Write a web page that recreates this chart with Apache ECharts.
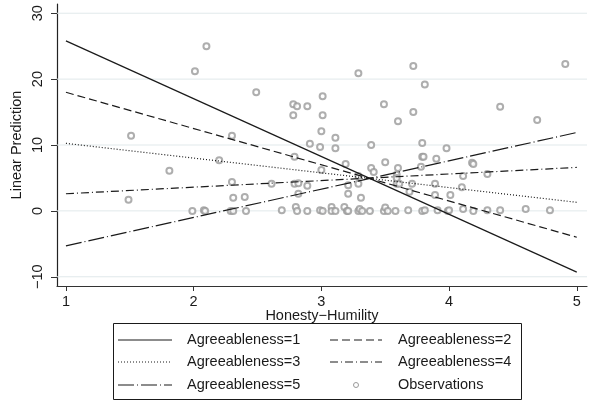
<!DOCTYPE html>
<html>
<head>
<meta charset="utf-8">
<script src="https://cdn.jsdelivr.net/npm/echarts@6/dist/echarts.min.js"></script>
<style>
  html, body { margin: 0; padding: 0; background: #fff; }
  #chart { width: 591px; height: 408px; }
</style>
</head>
<body>
<div id="chart"></div>
<script>
// Honesty–Humility ticks and y ticks
const xTicks = [1, 2, 3, 4, 5];
const yTicks = [-10, 0, 10, 20, 30];
const xRange = [0.93, 5.08];
const yRange = [-11.4, 31.4];

// Predicted lines: value at Honesty–Humility = 1 and = 5 for each agreeableness level
const lineNames = ['Agreeableness=1', 'Agreeableness=2', 'Agreeableness=3', 'Agreeableness=4', 'Agreeableness=5'];
const lineX = [1, 5];
const agree1 = [25.8, -9.3];
const agree2 = [18.0, -4.0];
const agree3 = [10.25, 1.3];
const agree4 = [2.6, 6.6];
const agree5 = [-5.3, 11.9];

// Observed data
const obsX = [
  2.10, 2.01, 2.49, 2.78, 2.81, 2.89, 3.01, 2.78, 3.01, 3.00, 3.11, 2.91, 2.99, 3.11, 3.29, 3.39,
  3.49, 3.60, 2.30, 3.72, 3.81, 3.72, 3.79, 3.98, 4.40, 4.69, 4.91, 1.51, 2.20, 1.81, 1.49,
  2.30, 2.31, 2.40, 2.79, 3.19, 3.00, 3.29, 2.61, 2.79, 2.82, 2.89, 3.21, 2.82, 3.21, 3.39,
  3.41, 3.50, 3.60, 3.29, 3.59, 3.59, 3.31, 3.79, 3.80, 3.90, 4.18, 4.19, 3.78, 4.11, 4.30,
  3.59, 3.61, 3.71, 3.89, 4.10, 3.69, 3.89, 4.01,
  1.99, 2.08, 2.09, 2.29, 2.31, 2.41, 2.69, 2.80, 2.81, 2.89, 2.99, 3.01, 3.08, 3.08, 3.11,
  3.18, 3.20, 3.21, 3.29, 3.30, 3.32, 3.38, 3.49, 3.50, 3.52, 3.58, 3.68, 3.79, 3.81, 3.91,
  3.99, 4.00, 4.11, 4.19, 4.30, 4.40, 4.60, 4.79
];
const obsY = [
  25.0, 21.2, 18.0, 16.2, 15.9, 15.9, 17.4, 14.5, 14.5, 12.1, 11.1, 10.2, 9.7, 9.5, 20.9, 10.0,
  16.2, 13.6, 11.4, 22.0, 19.2, 15.0, 10.3, 9.5, 15.8, 13.8, 22.3, 11.4, 7.7, 6.1, 1.7,
  4.4, 2.0, 2.1, 8.2, 7.1, 6.2, 5.3, 4.1, 4.1, 4.2, 3.8, 3.9, 2.6, 2.6, 6.5,
  5.9, 7.4, 6.5, 4.1, 5.5, 4.1, 2.0, 8.2, 8.2, 7.9, 7.3, 7.1, 6.7, 5.3, 5.6,
  5.0, 4.1, 4.1, 4.1, 3.6, 2.9, 2.4, 2.4,
  0, 0.1, 0, 0, 0, 0, 0.1, 0.6, 0, 0, 0.1, 0, 0.6, 0, 0,
  0.6, 0, 0, 0, 0.3, 0, 0, 0, 0.5, 0, 0, 0.1, 0, 0.1, 0.1,
  0, 0.1, 0.3, 0, 0.1, 0.1, 0.3, 0.1
];
const obsName = 'Observations';

const FONT = '"Liberation Sans", Arial, Helvetica, sans-serif';
const INK = '#1a1a1a';
const OBS = '#9a9a9a';
const GRIDC = '#e1e9eb';
const fmt = v => (v < 0 ? '\u2212' + Math.abs(v) : String(v));

const dashes = [null, [8, 4], [1, 2], [8, 3, 1, 3], [16, 3, 1, 3]];
const lineValues = [agree1, agree2, agree3, agree4, agree5];

// horizontal gridlines across the full plot width at each y tick
const gridSeries = yTicks.map(v => ({
  type: 'line',
  data: xRange.map(x => [x, v]),
  showSymbol: false,
  silent: true,
  z: 1,
  lineStyle: { color: GRIDC, width: 1, type: 'solid' }
}));

const lineSeries = lineNames.map((name, i) => ({
  name: name,
  type: 'line',
  data: lineX.map((x, k) => [x, lineValues[i][k]]),
  showSymbol: false,
  silent: true,
  z: 3,
  lineStyle: { color: INK, width: 1.2, type: dashes[i] ? dashes[i] : 'solid' }
}));

const scatterSeries = {
  name: obsName,
  type: 'scatter',
  data: obsX.map((x, i) => [x, obsY[i]]),
  symbol: 'emptyCircle',
  symbolSize: 6,
  silent: true,
  z: 2,
  itemStyle: { color: OBS, borderColor: OBS, borderWidth: 1 }
};

// Legend drawn as a boxed 2 x 3 key
const legendRows = [340, 362, 385];
const legendCols = [{ k0: 118, k1: 172, t: 187 }, { k0: 330, k1: 382, t: 398 }];
const legendItems = lineNames.concat([obsName]);
const legendGraphics = [{
  type: 'rect',
  shape: { x: 113.5, y: 323.5, width: 408, height: 76 },
  style: { fill: '#fff', stroke: INK, lineWidth: 1 }
}];
legendItems.forEach((label, i) => {
  const col = legendCols[i % 2];
  const y = legendRows[Math.floor(i / 2)];
  if (i < 5) {
    legendGraphics.push({
      type: 'line',
      shape: { x1: col.k0, y1: y, x2: col.k1, y2: y },
      style: { stroke: INK, lineWidth: 1.2, lineDash: dashes[i] || null }
    });
  } else {
    legendGraphics.push({
      type: 'circle',
      shape: { cx: (col.k0 + col.k1) / 2, cy: y, r: 2.5 },
      style: { fill: '#fff', stroke: OBS, lineWidth: 1 }
    });
  }
  legendGraphics.push({
    type: 'text',
    x: col.t,
    y: y,
    style: { text: label, font: '14.5px ' + FONT, fill: INK, verticalAlign: 'middle', textAlign: 'left' }
  });
});

const chart = echarts.init(document.getElementById('chart'), null, { renderer: 'canvas' });
chart.setOption({
  animation: false,
  backgroundColor: '#fff',
  grid: { left: 57, right: 4, top: 4, bottom: 122, containLabel: false },
  xAxis: {
    type: 'value',
    min: xRange[0],
    max: xRange[1],
    name: 'Honesty\u2212Humility',
    nameLocation: 'middle',
    nameGap: 22,
    nameMoveOverlap: false,
    nameTextStyle: { fontFamily: FONT, fontSize: 14.5, color: INK, verticalAlign: 'top' },
    axisLine: { show: true, onZero: false, lineStyle: { color: '#333', width: 1.2 } },
    axisTick: { show: true, length: 5, customValues: xTicks, lineStyle: { color: '#333', width: 1 } },
    axisLabel: { customValues: xTicks, margin: 8, fontFamily: FONT, fontSize: 14.5, color: INK, formatter: fmt },
    splitLine: { show: false }
  },
  yAxis: {
    type: 'value',
    min: yRange[0],
    max: yRange[1],
    name: 'Linear Prediction',
    nameLocation: 'middle',
    nameGap: 33,
    nameRotate: 90,
    nameMoveOverlap: false,
    nameTextStyle: { fontFamily: FONT, fontSize: 14.5, color: INK },
    axisLine: { show: true, onZero: false, lineStyle: { color: '#222', width: 1.2 } },
    axisTick: { show: true, length: 6, customValues: yTicks, lineStyle: { color: '#333', width: 1 } },
    axisLabel: { customValues: yTicks, rotate: 90, margin: 12, fontFamily: FONT, fontSize: 14.5, color: INK, formatter: fmt },
    splitLine: { show: false }
  },
  series: gridSeries.concat([scatterSeries], lineSeries),
  graphic: legendGraphics
});
</script>
</body>
</html>
